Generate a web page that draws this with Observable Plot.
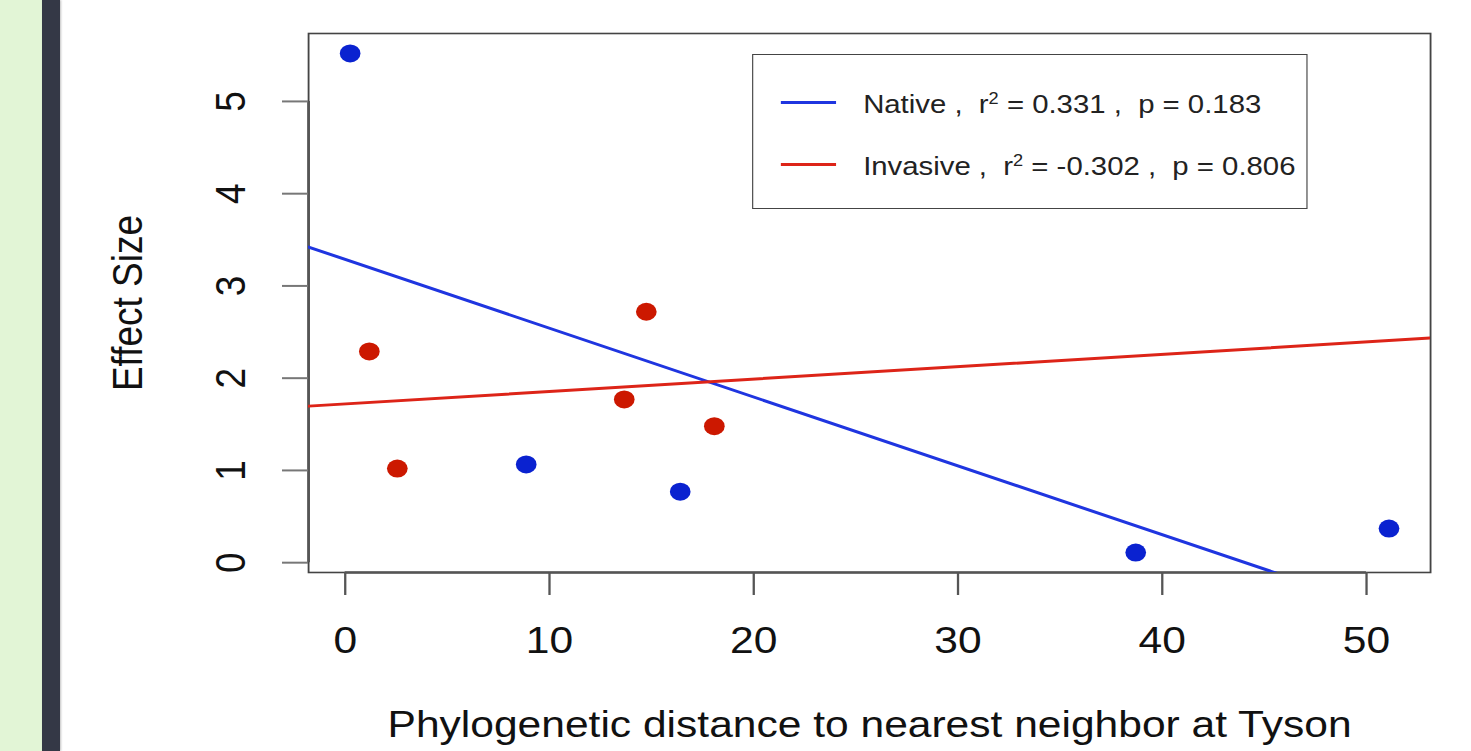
<!DOCTYPE html>
<html>
<head>
<meta charset="utf-8">
<script src="https://cdn.jsdelivr.net/npm/d3@7"></script>
<script src="https://cdn.jsdelivr.net/npm/@observablehq/plot@0.6"></script>
<style>
  html, body { margin: 0; padding: 0; background: #ffffff; width: 1471px; height: 751px; overflow: hidden; }
  #wrap { position: absolute; left: 0; top: 0; transform-origin: 0 0; }
  #wrap svg { display: block; max-width: none; }
  .stripe-green { position: absolute; left: 0; top: 0; width: 42px; height: 751px; background: #e2f5d6; z-index: 5; }
  .stripe-dark { position: absolute; left: 42px; top: 0; width: 18px; height: 751px; background: #343846; z-index: 5; box-shadow: 1px 0 2px rgba(0,0,0,0.25); }
  #legend { position: absolute; box-sizing: border-box; border: 1.5px solid #444; background: #fff; font-family: "Liberation Sans", Arial, sans-serif; color: #222; }
  .lg-line { position: absolute; height: 3px; }
  .lg-row { position: absolute; white-space: pre; font-size: 25.5px; line-height: 30px; }
  .lg-row sup { font-size: 0.62em; vertical-align: 0.6em; line-height: 0; }
</style>
</head>
<body>
<div class="stripe-green"></div>
<div class="stripe-dark"></div>
<div id="wrap"></div>
<script>
// ---- data ----
const nativeX = [0.24, 8.86, 16.4, 38.7, 51.1];
const nativeY = [5.52, 1.065, 0.77, 0.11, 0.37];
const invasiveX = [1.18, 2.55, 13.66, 14.74, 18.07];
const invasiveY = [2.29, 1.02, 1.77, 2.72, 1.48];
const xTicks = [0, 10, 20, 30, 40, 50];
const yTicks = [0, 1, 2, 3, 4, 5];
const groupNames = ["Native", "Invasive"];
const groupR2 = ["0.331", "-0.302"];
const groupP = ["0.183", "0.806"];
const xLabel = "Phylogenetic distance to nearest neighbor at Tyson";
const yLabel = "Effect Size";

// ---- styling ----
const dotColors = ["#0a22d0", "#cc1800"];
const lineColors = ["#1f35e0", "#dd2418"];
const W = 1471, H = 751, S = 1.15;          // the reference is stretched horizontally
const W0 = W / S;

// R-style axis ranges: data extent extended by 4%
function rRange(vals) {
  const [a, b] = d3.extent(vals);
  const pad = (b - a) * 0.04;
  return [a - pad, b + pad];
}
const allX = nativeX.concat(invasiveX);
const allY = nativeY.concat(invasiveY);
const xDomain = rRange(allX);
const yDomain = rRange(allY);

function pts(xs, ys, g) { return xs.map((x, i) => ({x, y: ys[i], g})); }
const nativePts = pts(nativeX, nativeY, "Native");
const invasivePts = pts(invasiveX, invasiveY, "Invasive");

// least squares fit drawn across the whole panel (like abline)
function fit(xs, ys) {
  const mx = d3.mean(xs), my = d3.mean(ys);
  const sxy = d3.sum(xs, (x, i) => (x - mx) * (ys[i] - my));
  const sxx = d3.sum(xs, x => (x - mx) ** 2);
  const b = sxy / sxx, a = my - b * mx;
  return xDomain.map(x => ({x, y: a + b * x}));
}

const chart = Plot.plot({
  width: W0,
  height: H,
  marginLeft: 308 / S,
  marginRight: (W - 1430) / S,
  marginTop: 33,
  marginBottom: 179,
  x: {domain: xDomain},
  y: {domain: yDomain},
  style: {fontFamily: "'Liberation Sans', Arial, sans-serif", fontSize: "37px", color: "#111", background: "transparent", overflow: "visible"},
  marks: [
    Plot.frame({stroke: "#444", strokeWidth: 1.6}),
    Plot.ruleY([yDomain[0]], {x1: xTicks[0], x2: xTicks[xTicks.length - 1], stroke: "#555", strokeWidth: 2.4}),
    Plot.ruleX([xDomain[0]], {y1: yTicks[0], y2: yTicks[yTicks.length - 1], stroke: "#555", strokeWidth: 2.4}),
    Plot.axisX({ticks: xTicks, tickSize: 23, tickPadding: 31, label: null, stroke: "#555", strokeWidth: 2}),
    Plot.axisY({ticks: yTicks, tickSize: 26 / S, tickFormat: () => "", label: null, stroke: "#777", strokeWidth: 2}),
    Plot.text(yTicks, {y: d => d, text: d => String(d), frameAnchor: "left", dx: -67, rotate: -90, textAnchor: "middle", lineAnchor: "middle", fill: "#111"}),
    Plot.text([xLabel], {text: d => d, frameAnchor: "bottom", dy: 153, textAnchor: "middle", lineAnchor: "middle", fill: "#111"}),
    Plot.text([yLabel], {text: d => d, frameAnchor: "left", dx: -157, rotate: -90, textAnchor: "middle", lineAnchor: "middle", fill: "#111"}),
    Plot.line(fit(nativeX, nativeY), {x: "x", y: "y", stroke: lineColors[0], strokeWidth: 3, clip: true}),
    Plot.line(fit(invasiveX, invasiveY), {x: "x", y: "y", stroke: lineColors[1], strokeWidth: 3, clip: true}),
    Plot.dot(nativePts, {x: "x", y: "y", r: 9, fill: dotColors[0], stroke: "none"}),
    Plot.dot(invasivePts, {x: "x", y: "y", r: 9, fill: dotColors[1], stroke: "none"})
  ]
});

const wrap = document.getElementById("wrap");
wrap.style.width = W0 + "px";
wrap.style.height = H + "px";
wrap.style.transform = `scaleX(${S})`;
wrap.appendChild(chart);

// legend box (inside the stretched wrapper)
const lg = document.createElement("div");
lg.id = "legend";
const lgLeft = 752 / S, lgRight = 1307 / S;
lg.style.left = lgLeft + "px";
lg.style.top = "54px";
lg.style.width = (lgRight - lgLeft) + "px";
lg.style.height = "155px";
const rowCenters = [50, 112];
groupNames.forEach((name, i) => {
  const ln = document.createElement("div");
  ln.className = "lg-line";
  ln.style.left = (780 / S - lgLeft) + "px";
  ln.style.width = ((835 - 780) / S) + "px";
  ln.style.top = (rowCenters[i] - 3 - 1.5) + "px";
  ln.style.background = lineColors[i];
  lg.appendChild(ln);
  const row = document.createElement("div");
  row.className = "lg-row";
  row.style.left = (862 / S - lgLeft) + "px";
  row.style.top = (rowCenters[i] - 15 - 1) + "px";
  row.innerHTML = `${name} ,  r<sup>2</sup> = ${groupR2[i]} ,  p = ${groupP[i]}`;
  lg.appendChild(row);
});
wrap.appendChild(lg);
</script>
</body>
</html>
